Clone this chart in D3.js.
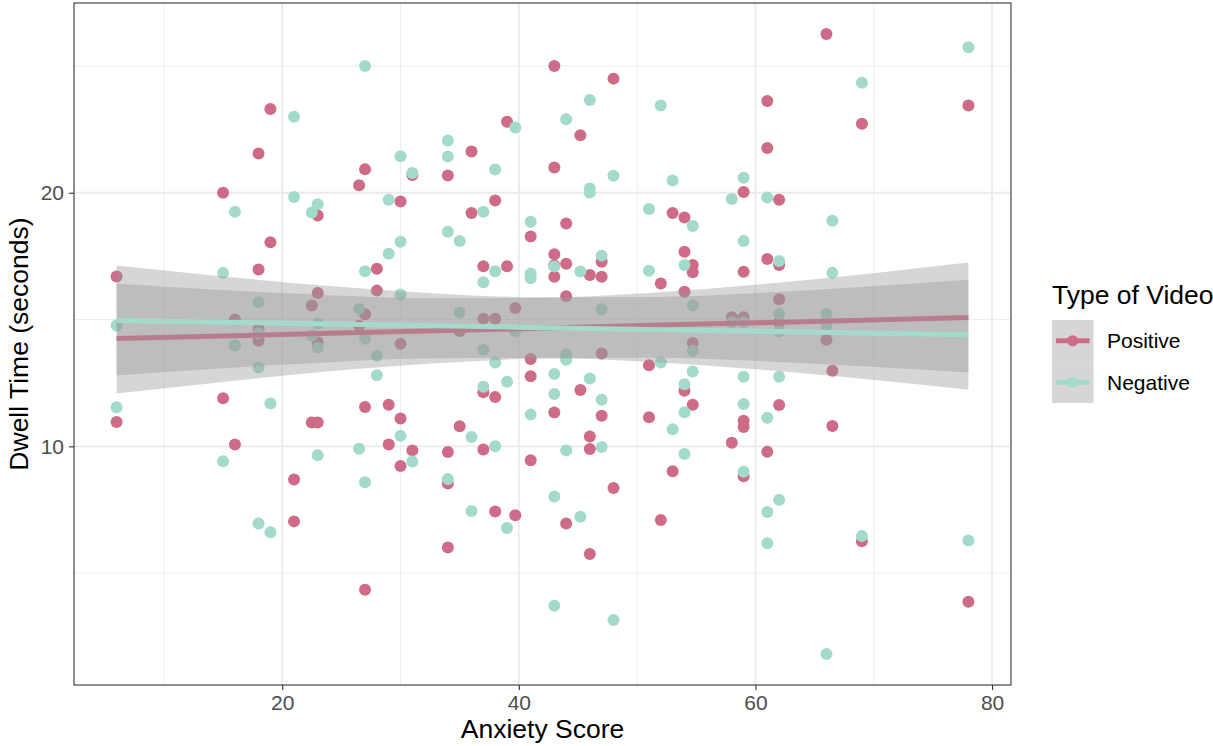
<!DOCTYPE html>
<html>
<head>
<meta charset="utf-8">
<script src="https://cdn.jsdelivr.net/npm/d3@7"></script>
<style>
  body { margin: 0; background: #fff; }
  svg text { font-family: "Liberation Sans", Arial, Helvetica, sans-serif; }
</style>
</head>
<body>
<div id="chart"></div>
<script>
// anxiety score / dwell time for each video type
const posAnxiety = [6,6,15,15,16,16,18,18,18,18,19,19,21,21,22.5,22.5,23,23,23,23,26.5,26.5,27,27,27,27,28,28,29,29,30,30,30,30,31,31,34,34,34,34,35,35,36,36,37,37,37,37,38,38,38,38,39,39,39.7,39.7,41,41,41,41,43,43,43,43,43,43,44,44,44,44,45.2,45.2,46,46,46,46,47,47,47,47,48,48,51,51,52,52,53,53,54,54,54,54,54.7,54.7,54.7,54.7,58,58,59,59,59,59,59,59,61,61,61,61,62,62,62,62,62,66,66,66.5,66.5,69,69,78,78]
const posDwell = [16.7,10.96,20.0,11.9,15.0,10.07,21.55,16.97,14.63,14.16,23.3,18.05,8.69,7.04,15.55,10.94,19.1,16.05,14.1,10.94,20.3,14.75,20.93,15.21,11.55,4.34,17.0,16.14,11.64,10.07,19.65,14.04,11.1,9.22,20.7,9.84,20.68,9.78,8.53,6.01,14.55,10.79,21.63,19.2,17.1,15.03,12.13,9.87,19.69,15.03,11.94,7.43,22.8,17.1,15.45,7.28,18.27,13.44,12.76,9.45,25.0,21.0,17.57,17.14,16.69,11.33,18.79,17.2,15.92,6.96,22.27,12.22,16.76,10.39,9.89,5.75,17.28,16.69,13.66,11.21,24.5,8.36,13.2,11.15,16.42,7.09,19.2,9.02,19.02,17.67,16.1,12.19,17.15,16.86,14.07,11.64,15.09,10.14,20.03,16.88,15.09,11.01,10.76,8.82,23.62,21.76,17.39,9.79,19.72,17.15,15.8,14.88,11.63,26.26,14.2,12.98,10.8,22.72,6.26,23.44,3.87]

const negAnxiety = [6,6,15,15,16,16,18,18,18,18,19,19,21,21,22.5,22.5,23,23,23,23,26.5,26.5,27,27,27,27,28,28,29,29,30,30,30,30,31,31,34,34,34,34,35,35,36,36,37,37,37,37,38,38,38,38,39,39,39.7,39.7,41,41,41,41,43,43,43,43,43,44,44,44,44,45.2,45.2,46,46,46,46,47,47,47,47,48,48,51,51,52,52,53,53,54,54,54,54,54.7,54.7,54.7,54.7,58,58,59,59,59,59,59,59,61,61,61,61,62,62,62,62,62,66,66,66,66.5,66.5,69,69,78,78]
const negDwell = [14.76,11.54,16.84,9.41,19.25,13.98,15.68,14.46,13.11,6.96,11.69,6.61,23.0,19.83,19.22,14.37,19.55,14.84,13.9,9.65,15.42,9.9,25.0,16.9,14.24,8.58,13.57,12.8,19.72,17.59,21.44,18.07,15.99,10.42,20.78,9.4,22.06,21.43,18.46,8.71,18.1,15.28,10.37,7.45,19.25,16.47,13.81,12.35,20.92,16.9,13.31,10.0,12.55,6.78,22.57,14.55,18.86,16.82,16.63,11.25,17.09,12.85,12.06,8.02,3.71,22.9,13.63,13.41,9.84,16.89,7.22,23.66,20.17,20.01,12.67,17.52,15.41,11.84,9.97,20.67,3.15,19.36,16.92,23.44,13.31,20.48,10.67,17.15,12.45,11.34,9.7,18.69,15.55,13.77,12.95,19.75,14.88,20.59,18.1,14.88,12.74,11.67,9.0,19.81,11.13,7.41,6.18,17.31,15.22,14.53,12.74,7.89,15.22,14.75,1.81,18.9,16.84,24.34,6.46,25.74,6.29]

// linear fit and 95% band, read at a few anxiety scores
const fitAnxiety = [6,15,24,33,42,51,60,69,78]
const posFit   = [14.25,14.35,14.46,14.56,14.66,14.77,14.87,14.97,15.08]
const posLower = [12.08,12.54,12.96,13.28,13.46,13.49,13.37,13.16,12.91]
const posUpper = [16.42,16.16,15.96,15.84,15.86,16.05,16.37,16.78,17.25]
const negFit   = [14.96,14.89,14.82,14.75,14.68,14.61,14.54,14.47,14.40]
const negLower = [12.79,13.08,13.32,13.47,13.48,13.33,13.04,12.66,12.23]
const negUpper = [17.13,16.70,16.32,16.03,15.88,15.89,16.04,16.28,16.57]

const videoTypes = ['Positive', 'Negative']
const xTicks = [20, 40, 60, 80]
const xMinor = [10, 30, 50, 70]
const yTicks = [10, 20]
const yMinor = [5, 15, 25]

const colors = { Positive: '#CE6B86', Negative: '#A4DACB' }

const W = 1213, H = 746
const margin = { top: 3, right: 202, bottom: 61, left: 74 }
const width = W - margin.left - margin.right
const height = H - margin.top - margin.bottom

const svg = d3.select('#chart').append('svg')
  .attr('width', W).attr('height', H)

const g = svg.append('g').attr('transform', `translate(${margin.left},${margin.top})`)

// ggplot style 5% expansion
function expand(ext) {
  const pad = (ext[1] - ext[0]) * 0.05
  return [ext[0] - pad, ext[1] + pad]
}
const allX = posAnxiety.concat(negAnxiety)
const allY = posDwell.concat(negDwell)
const x = d3.scaleLinear().domain(expand(d3.extent(allX))).range([0, width])
const y = d3.scaleLinear().domain(expand(d3.extent(allY))).range([height, 0])

// grid
g.append('g').selectAll('line').data(xMinor).join('line')
  .attr('x1', d => x(d)).attr('x2', d => x(d)).attr('y1', 0).attr('y2', height)
  .attr('stroke', '#EBEBEB').attr('stroke-width', 0.9)
g.append('g').selectAll('line').data(yMinor).join('line')
  .attr('y1', d => y(d)).attr('y2', d => y(d)).attr('x1', 0).attr('x2', width)
  .attr('stroke', '#EBEBEB').attr('stroke-width', 0.9)
g.append('g').selectAll('line').data(xTicks).join('line')
  .attr('x1', d => x(d)).attr('x2', d => x(d)).attr('y1', 0).attr('y2', height)
  .attr('stroke', '#EBEBEB').attr('stroke-width', 1.8)
g.append('g').selectAll('line').data(yTicks).join('line')
  .attr('y1', d => y(d)).attr('y2', d => y(d)).attr('x1', 0).attr('x2', width)
  .attr('stroke', '#EBEBEB').attr('stroke-width', 1.8)

// points
const posPts = posAnxiety.map((a, i) => ({ type: 'Positive', a: a, d: posDwell[i] }))
const negPts = negAnxiety.map((a, i) => ({ type: 'Negative', a: a, d: negDwell[i] }))
g.append('g').selectAll('circle').data(posPts.concat(negPts)).join('circle')
  .attr('cx', d => x(d.a)).attr('cy', d => y(d.d)).attr('r', 6)
  .attr('fill', d => colors[d.type])

// smooths: ribbon then line for each group
const fits = {
  Positive: fitAnxiety.map((a, i) => ({ a: a, fit: posFit[i], lo: posLower[i], hi: posUpper[i] })),
  Negative: fitAnxiety.map((a, i) => ({ a: a, fit: negFit[i], lo: negLower[i], hi: negUpper[i] }))
}
const area = d3.area().curve(d3.curveMonotoneX)
  .x(d => x(d.a)).y0(d => y(d.lo)).y1(d => y(d.hi))
const line = d3.line().x(d => x(d.a)).y(d => y(d.fit))

videoTypes.forEach(t => {
  g.append('path').datum(fits[t]).attr('d', area)
    .attr('fill', '#999999').attr('fill-opacity', 0.4)
  g.append('path').datum(fits[t]).attr('d', line)
    .attr('fill', 'none').attr('stroke', colors[t]).attr('stroke-width', 5)
})

// panel border
g.append('rect').attr('width', width).attr('height', height)
  .attr('fill', 'none').attr('stroke', '#333333').attr('stroke-width', 1.1)

// axes
const xAxis = g.append('g').attr('transform', `translate(0,${height})`)
  .call(d3.axisBottom(x).tickValues(xTicks).tickSize(5).tickPadding(5))
const yAxis = g.append('g')
  .call(d3.axisLeft(y).tickValues(yTicks).tickSize(5).tickPadding(5))
;[xAxis, yAxis].forEach(a => {
  a.select('.domain').remove()
  a.selectAll('.tick line').attr('stroke', '#333333').attr('stroke-width', 1.1)
  a.selectAll('.tick text').attr('fill', '#4D4D4D').style('font-size', '21px')
    .style('font-family', '"Liberation Sans", Arial, Helvetica, sans-serif')
})

// axis titles
svg.append('text')
  .attr('x', margin.left + width / 2).attr('y', 738)
  .attr('text-anchor', 'middle').style('font-size', '26.5px').attr('fill', '#000')
  .text('Anxiety Score')
svg.append('text')
  .attr('transform', `translate(28,${margin.top + height / 2}) rotate(-90)`)
  .attr('text-anchor', 'middle').style('font-size', '26.5px').attr('fill', '#000')
  .text('Dwell Time (seconds)')

// legend
const legend = svg.append('g').attr('transform', 'translate(1052,0)')
legend.append('text').attr('x', 0).attr('y', 304)
  .style('font-size', '26.5px').attr('fill', '#000').text('Type of Video')
const keys = legend.selectAll('.key').data(videoTypes).join('g')
  .attr('class', 'key')
  .attr('transform', (d, i) => `translate(0,${320 + i * 41.5})`)
keys.append('rect').attr('width', 41.5).attr('height', 41.5)
  .attr('fill', '#999999').attr('fill-opacity', 0.4)
keys.append('line').attr('x1', 4).attr('x2', 37.5).attr('y1', 20.75).attr('y2', 20.75)
  .attr('stroke', d => colors[d]).attr('stroke-width', 5)
keys.append('circle').attr('cx', 20.75).attr('cy', 20.75).attr('r', 5.5)
  .attr('fill', d => colors[d])
keys.append('text').attr('x', 55).attr('y', 20.75).attr('dy', '0.35em')
  .style('font-size', '21px').attr('fill', '#000').text(d => d)
</script>
</body>
</html>
